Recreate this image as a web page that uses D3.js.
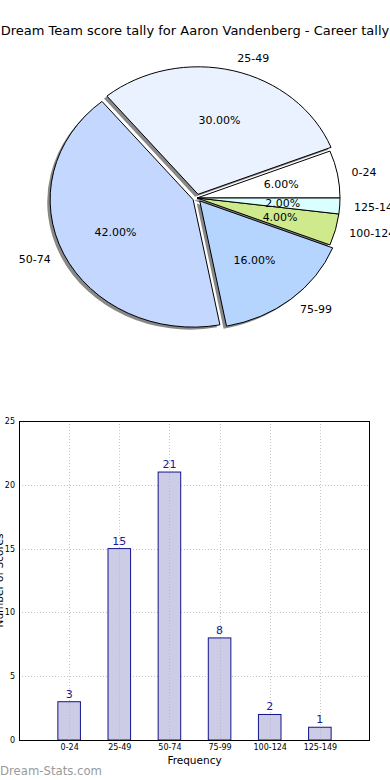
<!DOCTYPE html>
<html><head><meta charset="utf-8">
<script src="https://cdn.jsdelivr.net/npm/d3@7"></script>
<style>
html,body{margin:0;padding:0;background:#fff;}
svg{display:block;font-family:"DejaVu Sans",sans-serif;}
</style></head>
<body>
<svg id="chart" width="390" height="780"></svg>
<script>
const categories = ["0-24","25-49","50-74","75-99","100-124","125-149"];
const counts = [3,15,21,8,2,1];
const explode = [0,0.03,0.03,0.03,0,0];
const pieColors = ["#ffffff","#eaf1ff","#c4d8ff","#b5d5ff","#cfea8c","#d9ffff"];
const yTicks = [0,5,10,15,20,25];
const titleText = "Dream Team score tally for Aaron Vandenberg - Career tally";
const xLabel = "Frequency";
const yLabel = "Number of Scores";

const svg = d3.select("#chart");

svg.append("text").attr("x",195).attr("y",34.5).attr("text-anchor","middle")
  .attr("font-size","13px").attr("fill","#000").text(titleText);

// ---------- Pie ----------
const cx = 197, cy = 198, rx = 143, ry = 127.5;
const total = d3.sum(counts);
const pie = d3.pie().sort(null).startAngle(Math.PI/2).endAngle(Math.PI/2 - 2*Math.PI);
const arcs = pie(counts);
const arc = d3.arc().innerRadius(0).outerRadius(ry);
const sx = rx/ry;

function off(d,f){
  const mid = (d.startAngle + d.endAngle)/2;
  return [cx + f*rx*Math.sin(mid), cy - f*ry*Math.cos(mid)];
}

const gShadow = svg.append("g");
const gPie = svg.append("g");
arcs.forEach((d,i)=>{
  const [ox,oy] = off(d,explode[i]);
  gShadow.append("path").attr("d",arc(d))
    .attr("transform",`translate(${ox-2.9},${oy+2.5}) scale(${sx},1)`)
    .attr("fill","#888888");
});
arcs.forEach((d,i)=>{
  const [ox,oy] = off(d,explode[i]);
  gPie.append("path").attr("d",arc(d))
    .attr("transform",`translate(${ox},${oy}) scale(${sx},1)`)
    .attr("fill",pieColors[i]).attr("stroke","#000").attr("stroke-width",1)
    .attr("vector-effect","non-scaling-stroke").attr("stroke-linejoin","round");
});
arcs.forEach((d,i)=>{
  const mid = (d.startAngle + d.endAngle)/2;
  const [lx,ly] = off(d,1.1+explode[i]);
  const [px,py] = off(d,0.6+explode[i]);
  svg.append("text").attr("x",lx).attr("y",ly).attr("dy","0.35em")
    .attr("text-anchor", Math.sin(mid) > 0 ? "start" : "end")
    .attr("font-size","11px").attr("fill","#000").text(categories[i]);
  svg.append("text").attr("x",px).attr("y",py).attr("dy","0.35em")
    .attr("text-anchor","middle").attr("font-size","11px").attr("fill","#000")
    .text((counts[i]/total*100).toFixed(2)+"%");
});

// ---------- Bar chart ----------
const bLeft = 19, bRight = 370, bTop = 421, bBottom = 740;
const x = d3.scaleLinear().domain([-1, categories.length]).range([bLeft, bRight]);
const y = d3.scaleLinear().domain([0,25]).range([bBottom, bTop]);
const bw = x(0.45) - x(0);
const gBar = svg.append("g");

const grid = gBar.append("g").attr("stroke","#c4c4c4").attr("stroke-width",1).attr("stroke-dasharray","1,2");
categories.forEach((c,i)=>{
  grid.append("line").attr("x1",Math.round(x(i))+0.5).attr("x2",Math.round(x(i))+0.5).attr("y1",bTop).attr("y2",bBottom);
});
yTicks.forEach(t=>{
  grid.append("line").attr("x1",bLeft).attr("x2",bRight).attr("y1",Math.round(y(t))+0.5).attr("y2",Math.round(y(t))+0.5);
});

gBar.selectAll("rect.bar").data(counts).enter().append("rect")
  .attr("x",(d,i)=>x(i)-bw/2).attr("width",bw)
  .attr("y",d=>y(d)).attr("height",d=>y(0)-y(d))
  .attr("fill","#ccccE6").attr("stroke","#14148c").attr("stroke-width",1);
const grid2 = gBar.append("g").attr("stroke","#b0b0c4").attr("stroke-width",1).attr("stroke-dasharray","1,2").attr("opacity",0.7);
categories.forEach((c,i)=>{
  grid2.append("line").attr("x1",Math.round(x(i))+0.5).attr("x2",Math.round(x(i))+0.5).attr("y1",y(counts[i])+1).attr("y2",bBottom);
});

gBar.selectAll("text.val").data(counts).enter().append("text")
  .attr("x",(d,i)=>x(i)).attr("y",d=>y(d)-4)
  .attr("text-anchor","middle").attr("font-size","11px").attr("fill","#1a1a9a").text(d=>d);

gBar.append("rect").attr("x",bLeft+0.5).attr("y",bTop+0.5).attr("width",bRight-bLeft-1).attr("height",bBottom-bTop)
  .attr("fill","none").attr("stroke","#000").attr("stroke-width",1);

const xAxis = d3.axisBottom(x).tickValues(d3.range(categories.length)).tickFormat(i=>categories[i]).tickSize(0).tickPadding(4);
const gx = gBar.append("g").attr("transform",`translate(0,${bBottom})`).call(xAxis);
gx.select(".domain").remove();
gx.selectAll("text").attr("font-size","8px").attr("fill","#000").attr("font-family","DejaVu Sans, sans-serif");
const yAxis = d3.axisLeft(y).tickValues(yTicks).tickSize(0).tickPadding(4);
const gy = gBar.append("g").attr("transform",`translate(${bLeft},0)`).call(yAxis);
gy.select(".domain").remove();
gy.selectAll("text").attr("font-size","8px").attr("fill","#000").attr("font-family","DejaVu Sans, sans-serif");

svg.append("text").attr("x",(bLeft+bRight)/2).attr("y",764).attr("text-anchor","middle")
  .attr("font-size","10.5px").attr("fill","#000").text(xLabel);
svg.append("text").attr("transform",`translate(3,${(bTop+bBottom)/2}) rotate(-90)`)
  .attr("text-anchor","middle").attr("font-size","10.5px").attr("fill","#000").text(yLabel);

svg.append("text").attr("x",0).attr("y",775).attr("font-size","12px")
  .attr("textLength",102).attr("lengthAdjust","spacingAndGlyphs")
  .attr("fill","#9a9a9a").text("Dream-Stats.com");
</script>
</body></html>
